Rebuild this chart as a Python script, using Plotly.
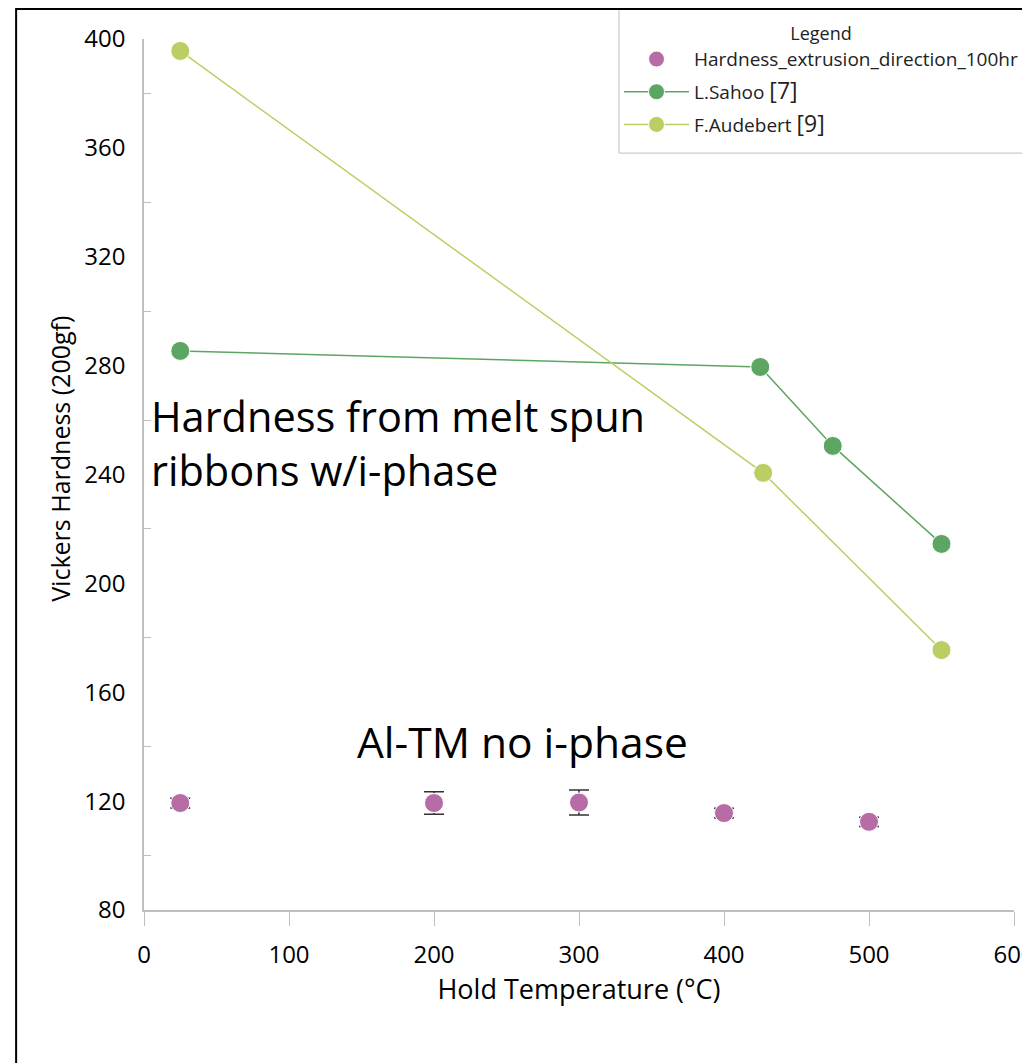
import plotly.graph_objects as go

# Data
hard_x = [25, 200, 300, 400, 500]
hard_y = [119.3, 119.3, 119.5, 115.6, 112.4]
hard_err = [1.8, 4.1, 4.6, 1.8, 1.7]

sahoo_x = [25, 425, 475, 550]
sahoo_y = [285.4, 279.5, 250.5, 214.5]

aud_x = [25, 427, 550]
aud_y = [395.6, 240.6, 175.5]

x_ticks = [0, 100, 200, 300, 400, 500, 600]
y_ticks = [80, 120, 160, 200, 240, 280, 320, 360, 400]

FONT = "Open Sans"

fig = go.Figure()
fig.add_trace(go.Scatter(
    x=hard_x, y=hard_y, mode="markers", name="Hardness_extrusion_direction_100hr",
    legendgroup="a",
    marker=dict(size=19, color="#B86CA6", line=dict(width=1, color="white")),
    error_y=dict(type="data", array=hard_err, visible=True, color="#333333", thickness=1.5, width=10),
))
fig.add_trace(go.Scatter(
    x=sahoo_x, y=sahoo_y, mode="lines+markers", name="L.Sahoo <span style='font-size:23px'>[7]</span>",
    legendgroup="b",
    line=dict(color="#5DA562", width=1.5),
    marker=dict(size=19, color="#5DA562", line=dict(width=1, color="white")),
))
fig.add_trace(go.Scatter(
    x=aud_x, y=aud_y, mode="lines+markers", name="F.Audebert <span style='font-size:23px'>[9]</span>",
    legendgroup="c",
    line=dict(color="#B9CF63", width=1.5),
    marker=dict(size=19, color="#B9CF63", line=dict(width=1, color="white")),
))

fig.add_annotation(x=0.0057, y=0.5356, xref="paper", yref="paper", xanchor="left", yanchor="middle",
                   text="Hardness from melt spun<br>ribbons w/i-phase", showarrow=False, align="left",
                   font=dict(family=FONT, size=41.5, color="black"))
fig.add_annotation(x=0.4356, y=0.193, xref="paper", yref="paper", xanchor="center", yanchor="middle",
                   text="Al-TM no i-phase", showarrow=False,
                   font=dict(family=FONT, size=42.5, color="black"))
# y axis title
fig.add_annotation(x=-0.0966, y=0.518, xref="paper", yref="paper", xanchor="center", yanchor="middle",
                   text="Vickers Hardness (200gf)", textangle=-90, showarrow=False,
                   font=dict(family=FONT, size=25, color="black"))

# legend box
fig.add_shape(type="rect", xref="paper", yref="paper", x0=0.546, x1=1.2, y0=0.869, y1=1.0344,
              line=dict(color="#BFBFBF", width=1), fillcolor="white", layer="below")
# outer frame
fig.add_shape(type="rect", xref="paper", yref="paper", x0=-0.147, x1=1.2, y0=-0.3, y1=1.0344,
              line=dict(color="black", width=2), fillcolor="rgba(0,0,0,0)", layer="below")

fig.update_layout(
    width=1030, height=1063,
    margin=dict(l=136, r=24, t=31, b=161, autoexpand=False),
    paper_bgcolor="white", plot_bgcolor="white",
    font=dict(family=FONT, color="black"),
    showlegend=True,
    legend=dict(
        x=0.546, y=1.0255, xanchor="left", yanchor="top",
        bgcolor="rgba(0,0,0,0)", borderwidth=0,
        font=dict(family=FONT, size=19, color="#222222"),
        title=dict(text="Legend", side="top center", font=dict(family=FONT, size=18)),
        itemwidth=65, tracegroupgap=5,
    ),
    xaxis=dict(
        range=[0, 600], tickvals=x_ticks, ticks="outside", ticklen=14, tickcolor="#BFBFBF",
        showline=True, linecolor="#BFBFBF", linewidth=1.5, showgrid=False, zeroline=False,
        tickfont=dict(size=24), ticklabelstandoff=8, automargin=False,
        title=dict(text="Hold Temperature (°C)", font=dict(size=27), standoff=12),
    ),
    yaxis=dict(
        range=[80, 400], tickvals=y_ticks, ticks="", showline=True, linecolor="#BFBFBF", linewidth=1.5,
        showgrid=False, zeroline=False, tickfont=dict(size=24), ticklabelstandoff=12, automargin=False,
        minor=dict(ticks="inside", ticklen=7, tickcolor="#BFBFBF", tickvals=[100, 140, 180, 220, 260, 300, 340, 380]),
    ),
)

fig.write_html("out.html")
